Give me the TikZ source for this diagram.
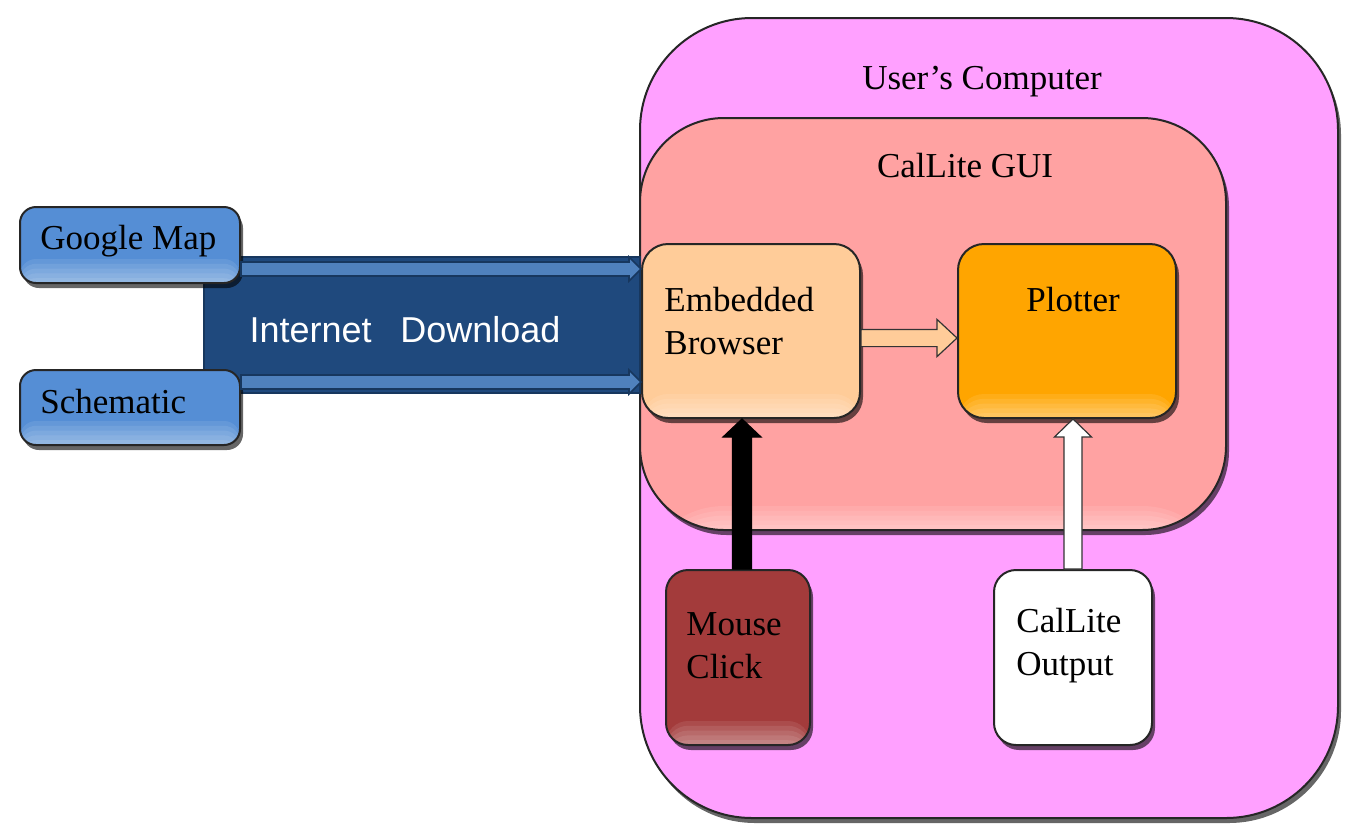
\documentclass[tikz,border=0pt]{standalone}
\usepackage{fontspec}
\setmainfont{Liberation Serif}
\newfontfamily\arialfont{Liberation Sans}
\usetikzlibrary{calc,shadows}
\definecolor{ucpink}{HTML}{FFA0FF}
\definecolor{guipink}{HTML}{FFA2A2}
\definecolor{banddark}{HTML}{1F497D}
\definecolor{bandline}{HTML}{17375E}
\definecolor{bandarrow}{HTML}{4F81BD}
\definecolor{srcblue}{HTML}{558ED5}
\definecolor{peach}{HTML}{FFCC99}
\definecolor{plotorange}{HTML}{FFA500}
\definecolor{mousered}{HTML}{A33B3B}
\newcommand{\dfont}{\fontsize{17.5pt}{21.5pt}\selectfont}
\newcommand{\blockarrow}[6]{%
  \coordinate (bah) at ($(#3)!#6!(#2)$);
  \draw[#1] ($(#2)!#4!90:(#3)$) -- ($(bah)!#4!90:(#3)$) -- ($(bah)!#5!90:(#3)$) -- (#3)
    -- ($(bah)!#5!-90:(#3)$) -- ($(bah)!#4!-90:(#3)$) -- ($(#2)!#4!-90:(#3)$) -- cycle;}
\tikzset{
  box/.style={draw=black!85, line width=1pt, rounded corners=#1,
    drop shadow={shadow xshift=1.5pt, shadow yshift=-2.5pt, opacity=0.6, fill=black}},
  gloss/.style={fill=#1, path picture={\foreach \k in {1,...,5}
    {\fill[white, opacity=0.09] ($(path picture bounding box.south west)+(0,\k*2.4pt)$) rectangle (path picture bounding box.south east);}}},
  tlabel/.style={inner sep=0pt, font=\dfont, align=left, text=black},
}
\begin{document}
\begin{tikzpicture}[x=0.5pt,y=-0.5pt]
\fill[white] (0,0) rectangle (1352,836);
\useasboundingbox (0,0) rectangle (1352,836);
% containers
\node[box=56pt, fill=ucpink, minimum width=349pt, minimum height=400pt] (uc) at (989,418) {};
\node[box=42pt, gloss=guipink, minimum width=293pt, minimum height=206pt] (gui) at (933,324) {};
% internet band
\node[fill=banddark, draw=bandline, line width=0.8pt, minimum width=218pt, minimum height=68pt, inner sep=0pt] (band) at (422,325) {};
% sources
\node[box=8pt, gloss=srcblue, minimum width=110pt, minimum height=38pt] (gmap) at (130,245) {};
\node[box=8pt, gloss=srcblue, minimum width=110pt, minimum height=37.5pt] (schem) at (130,407.5) {};
% inner boxes
\node[box=13pt, gloss=peach, minimum width=109pt, minimum height=87pt] (browser) at (751,331) {};
\node[box=13pt, gloss=plotorange, minimum width=109pt, minimum height=87pt] (plotter) at (1067,331) {};
\node[box=11pt, gloss=mousered, minimum width=72pt, minimum height=87.5pt] (mouse) at (738,657.5) {};
\node[box=11pt, gloss=white, minimum width=79pt, minimum height=87.5pt] (output) at (1073,657.5) {};
% band arrows
\coordinate (u1) at ($(gmap.south east)+(0,-15)$);
\coordinate (u2) at (u1 -| browser.west);
\coordinate (l1) at ($(schem.north east)+(0,13)$);
\coordinate (l2) at (l1 -| browser.west);
\blockarrow{fill=bandarrow, draw=bandline, line width=0.8pt}{u1}{u2}{3.5pt}{6pt}{6pt}
\blockarrow{fill=bandarrow, draw=bandline, line width=0.8pt}{l1}{l2}{3.5pt}{6pt}{6pt}
% browser -> plotter
\coordinate (b1) at ($(browser.east)+(0,7)$);
\coordinate (b2) at (b1 -| plotter.west);
\blockarrow{fill=peach, draw=black!80, line width=0.6pt}{b1}{b2}{4.3pt}{9.3pt}{10pt}
% mouse -> browser
\coordinate (m2) at (742,0 |- browser.south);
\coordinate (m1) at (m2 |- mouse.north);
\blockarrow{fill=black, draw=black, line width=0.6pt}{m1}{m2}{4.8pt}{9.5pt}{9pt}
% output -> plotter
\coordinate (o2) at (output.north |- plotter.south);
\blockarrow{fill=white, draw=black!80, line width=0.6pt}{output.north}{o2}{4.5pt}{9.3pt}{9pt}
% texts
\node[tlabel] (tuc) at (982,82) {User’s Computer};
\node[tlabel] (tgui) at (965,166) {CalLite GUI};
\node[tlabel, anchor=west] (tgmap) at (40,241) {Google Map};
\node[tlabel, anchor=west] (tschem) at (40,402) {Schematic};
\node[tlabel, anchor=west] (tbrowser) at (664,321) {Embedded\\Browser};
\node[tlabel] (tplot) at (1073,300) {Plotter};
\node[tlabel, anchor=west] (tmouse) at (686,646) {Mouse\\Click};
\node[tlabel, anchor=west] (toutput) at (1016,646) {CalLite\\Output};
\node[inner sep=0pt, text=white, font=\arialfont\fontsize{18pt}{21pt}\selectfont] (tband) at (405,330) {Internet\hspace{0.8em}Download};
\end{tikzpicture}
\end{document}
